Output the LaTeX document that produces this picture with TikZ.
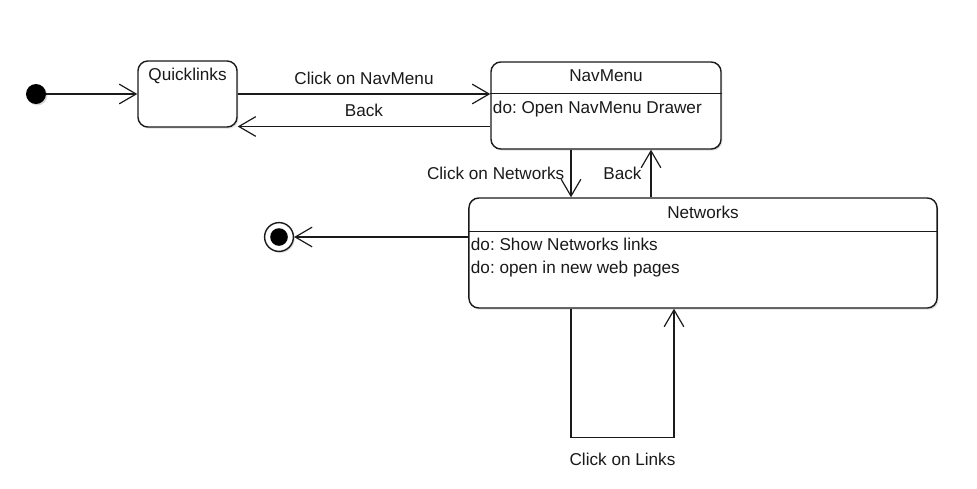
\documentclass[tikz,border=0pt]{standalone}
\usepackage{fontspec}
\setmainfont{Liberation Sans}
\frenchspacing
\usetikzlibrary{arrows.meta,positioning,shadows}
\definecolor{ink}{HTML}{1A1A1A}
\tikzset{
  statebox/.style={draw=ink,line width=1pt,rounded corners=7pt,fill=white,
    drop shadow={shadow xshift=1pt,shadow yshift=-1.2pt,opacity=0.25}},
  initdot/.style={circle,fill=black,minimum size=0.5cm,inner sep=0pt,
    drop shadow={shadow xshift=1pt,shadow yshift=-1pt,opacity=0.3}},
  findot/.style={circle,draw=ink,line width=1pt,fill=white,minimum size=0.72cm,inner sep=0pt,
    drop shadow={shadow xshift=1pt,shadow yshift=-1pt,opacity=0.3}},
  trans/.style={->,draw=ink,line width=0.85pt},
  dotext/.style={anchor=west,inner sep=1pt}
}
\begin{document}
\begin{tikzpicture}[x=0.025cm,y=-0.025cm,>={Straight Barb[length=12pt,width=14pt]},font=\fontsize{12.2}{14}\selectfont,text=ink]
\useasboundingbox (0,0) rectangle (977,488);
% states
\node[initdot] (init) at (36,94) {};
\node[statebox,minimum width=2.475cm,minimum height=1.65cm] (ql) at (187.5,94) {};
\node[statebox,minimum width=5.75cm,minimum height=2.175cm] (nav) at (606,105.5) {};
\node[statebox,minimum width=11.7cm,minimum height=2.75cm] (net) at (703,253) {};
\node[findot] (fin) at (279,237) {};
\node[circle,fill=black,minimum size=0.44cm,inner sep=0pt] (finIn) at (fin) {};
% titles and activities
\node (qlT) at ([yshift=-0.39cm]ql.north) {Quicklinks};
\node (navT) at ([yshift=-0.36cm]nav.north) {NavMenu};
\node (netT) at ([yshift=-0.38cm]net.north) {Networks};
\path (nav.north) ++(0,32) coordinate (navD);
\path (net.north) ++(0,34) coordinate (netD);
\draw[ink,line width=1pt] (navD -| nav.west) -- (navD -| nav.east);
\draw[ink,line width=1pt] (netD -| net.west) -- (netD -| net.east);
\path (navD -| nav.west) ++(1,16) node[dotext] (navDo) {do: Open NavMenu Drawer};
\path (netD -| net.west) ++(1,13) node[dotext] (netDo1) {do: Show Networks links};
\path (netD -| net.west) ++(1,38) node[dotext] (netDo2) {do: open in new web pages};
% transitions
\draw[trans] (init) -- (ql);
\draw[trans] (ql.east) -- (ql.east -| nav.west) node[midway,above=3pt] {Click on NavMenu};
\path (nav.west) ++(0,21) coordinate (backA);
\draw[trans] (backA) -- (backA -| ql.east) node[midway,above=3pt] {Back};
\path (nav.south) ++(-35,0) coordinate (cn);
\path (nav.south) ++(45,0) coordinate (bk);
\draw[trans] (cn) -- (cn |- net.north) node[midway,left=1pt] {Click on Networks};
\draw[trans] (bk |- net.north) -- (bk) node[midway,left=3pt] {Back};
\path (net.west) ++(0,-16) coordinate (netOut);
\draw[trans] (netOut) -- (fin);
\path (net.south) ++(-132,0) coordinate (la);
\path (net.south) ++(-29,0) coordinate (lb);
\draw[trans] (la) -- ++(0,129) -| node[pos=0.25,below=7pt] {Click on Links} (lb);
\end{tikzpicture}
\end{document}
